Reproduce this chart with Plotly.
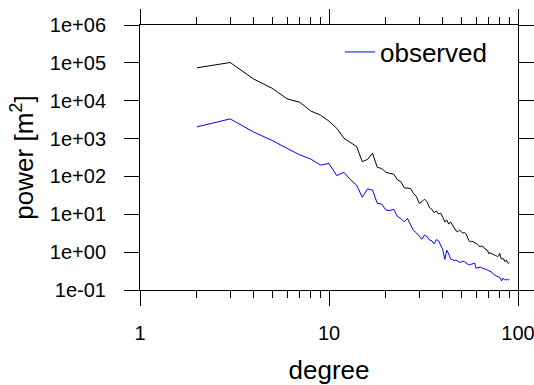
import plotly.graph_objects as go

degree = list(range(2, 91))

total_power = [
    7.41e4, 1.02e5, 3.72e4, 2.14e4, 1.12e4, 9.12e3, 5.37e3, 4.17e3, 2.88e3,
    1.86e3, 1.02e3, 794, 617, 245, 282, 407, 174, 162, 129, 120, 115, 81.3,
    72.4, 50.1, 49.0, 47.9, 35.5, 29.5, 19.5, 21.4, 25.1, 21.4, 15.1, 13.5,
    11.0, 12.3, 10.2, 10.7, 8.32, 6.31, 7.08, 5.50, 6.31, 5.25, 4.47, 3.63,
    3.47, 3.80, 3.55, 3.16, 3.31, 3.09, 2.51, 2.00, 1.86, 1.95, 1.86, 1.78,
    1.74, 1.62, 1.48, 1.38, 1.45, 1.38, 1.35, 1.20, 1.17, 1.12, 0.912, 0.955,
    0.933, 0.891, 0.851, 0.832, 0.813, 0.794, 0.759, 0.794, 0.933, 0.724,
    0.646, 0.692, 0.661, 0.562, 0.603, 0.617, 0.525, 0.501, 0.537,
]

observed_power = [
    2040, 3310, 1480, 891, 550, 372, 288, 200, 219, 105, 129, 81.3, 58.9,
    28.2, 46.8, 43.7, 19.5, 18.6, 12.9, 12.6, 13.5, 8.71, 7.76, 6.31, 7.76,
    5.25, 3.72, 3.24, 2.57, 2.19, 2.82, 2.57, 2.09, 2.00, 1.66, 2.14, 2.00,
    1.55, 1.15, 0.646, 1.12, 0.891, 0.661, 0.631, 0.603, 0.617, 0.575, 0.537,
    0.550, 0.575, 0.562, 0.525, 0.490, 0.457, 0.468, 0.490, 0.501, 0.513,
    0.372, 0.380, 0.398, 0.407, 0.389, 0.372, 0.363, 0.355, 0.347, 0.339,
    0.324, 0.316, 0.302, 0.282, 0.263, 0.251, 0.240, 0.234, 0.224, 0.219,
    0.214, 0.191, 0.174, 0.204, 0.195, 0.186, 0.191, 0.182, 0.195, 0.186,
    0.191,
]

x_tickvals = [1, 10, 100]
x_ticktext = ["1", "10", "100"]
x_minor_tickvals = [2, 3, 4, 5, 6, 7, 8, 9, 20, 30, 40, 50, 60, 70, 80, 90]
y_tickvals = [1e-1, 1e0, 1e1, 1e2, 1e3, 1e4, 1e5, 1e6]
y_ticktext = ["1e-01", "1e+00", "1e+01", "1e+02", "1e+03", "1e+04", "1e+05", "1e+06"]

FONT = "Liberation Sans, Arial, sans-serif"

fig = go.Figure()
fig.add_trace(go.Scatter(x=degree, y=total_power, mode="lines",
                         line=dict(color="black", width=1), showlegend=False))
fig.add_trace(go.Scatter(x=degree, y=observed_power, mode="lines",
                         line=dict(color="#0000ff", width=1), name="observed"))

fig.update_layout(
    width=534, height=385,
    margin=dict(l=140, r=16, t=25, b=95, autoexpand=False),
    paper_bgcolor="white", plot_bgcolor="white",
    font=dict(family=FONT, color="black", size=20),
    legend=dict(x=0.529, y=0.898, xanchor="left", yanchor="middle",
                font=dict(size=26, family=FONT), bgcolor="rgba(0,0,0,0)"),
)
fig.update_xaxes(
    type="log", range=[0, 2], automargin=False,
    tickvals=x_tickvals, ticktext=x_ticktext,
    ticks="outside", ticklen=15, tickwidth=1, tickcolor="black",
    showline=True, linecolor="black", linewidth=1, mirror="allticks",
    showgrid=False, zeroline=False,
    tickfont=dict(size=20, family=FONT),
    ticklabelstandoff=10, ticklabeloverflow="allow",
    minor=dict(tickvals=x_minor_tickvals, ticks="outside", ticklen=7, tickwidth=1,
               tickcolor="black", showgrid=False),
    title=dict(text="degree", font=dict(size=26, family=FONT), standoff=20),
)
fig.update_yaxes(
    type="log", range=[-1, 6], automargin=False,
    tickvals=y_tickvals, ticktext=y_ticktext,
    ticks="outside", ticklen=15, tickwidth=1, tickcolor="black",
    showline=True, linecolor="black", linewidth=1, mirror="allticks",
    showgrid=False, zeroline=False,
    tickfont=dict(size=20, family=FONT),
    ticklabelstandoff=14, ticklabeloverflow="allow",
    title=dict(text="power [m<sup>2</sup>]", font=dict(size=26, family=FONT), standoff=8),
)

fig.write_html("out.html")
